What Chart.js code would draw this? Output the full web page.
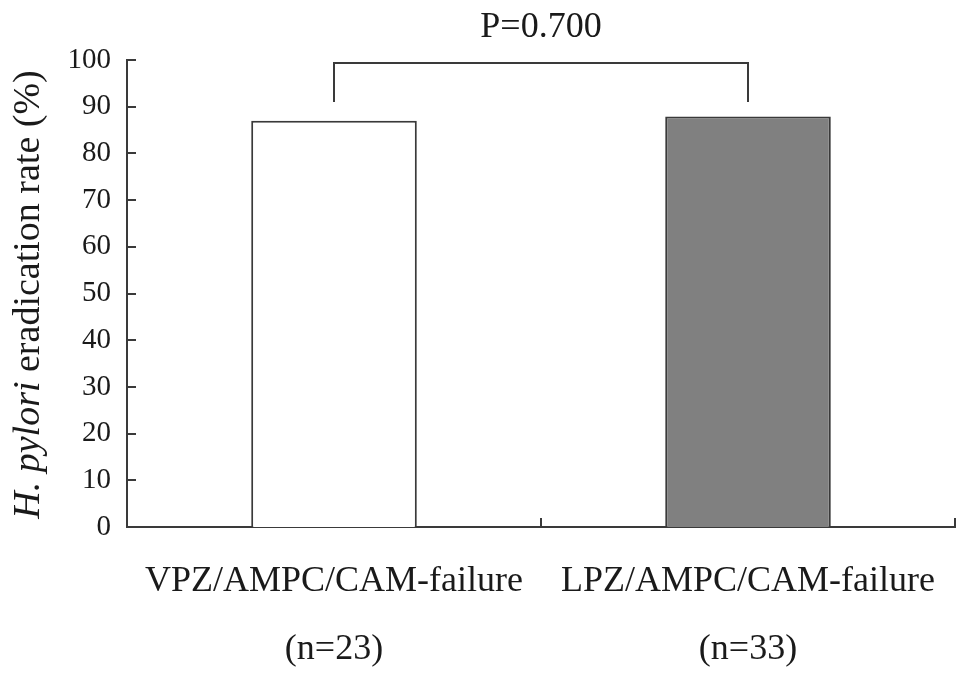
<!DOCTYPE html>
<html>
<head>
<meta charset="utf-8">
<script src="https://cdn.jsdelivr.net/npm/chart.js@4/dist/chart.umd.min.js"></script>
<style>
  html, body { margin: 0; padding: 0; background: #ffffff; overflow: hidden; }
  #wrap { width: 969px; height: 676px; position: relative; }
  #c { display: block; }
</style>
</head>
<body>
<div id="wrap"><canvas id="c"></canvas></div>
<script>
// ---- data ----
const categories = [['VPZ/AMPC/CAM-failure', '(n=23)'], ['LPZ/AMPC/CAM-failure', '(n=33)']];
const rates = [87.0, 87.9];
const barColors = ['#ffffff', '#808080'];
const yMin = 0, yMax = 100, yStep = 10;
const pLabel = 'P=0.700';
const bracketTop = 99.3;   // value of bracket horizontal line
const bracketLeg = 91.0;   // value where bracket legs end
const yTitleItalic = 'H. pylori';
const yTitleRest = ' eradication rate (%)';

const FONT = '"Liberation Serif", "Times New Roman", serif';
const INK = '#1a1a1a';
const AXIS = '#3a3a3a';

const decorPlugin = {
  id: 'decor',
  afterDraw(chart) {
    const ctx = chart.ctx;
    const x = chart.scales.x, y = chart.scales.y;
    const area = chart.chartArea;
    ctx.save();
    ctx.strokeStyle = AXIS;
    ctx.lineWidth = 2;
    // inward y ticks
    for (let v = yMin; v <= yMax; v += yStep) {
      const py = Math.round(y.getPixelForValue(v));
      ctx.beginPath();
      ctx.moveTo(area.left, py);
      ctx.lineTo(area.left + 9, py);
      ctx.stroke();
    }
    // inward x ticks at category boundaries
    for (let i = 0; i <= categories.length; i++) {
      const px = Math.round(x.getPixelForValue(i - 0.5));
      ctx.beginPath();
      ctx.moveTo(px, area.bottom);
      ctx.lineTo(px, area.bottom - 9);
      ctx.stroke();
    }
    // significance bracket
    const x0 = Math.round(x.getPixelForValue(0));
    const x1 = Math.round(x.getPixelForValue(1));
    const yt = Math.round(y.getPixelForValue(bracketTop));
    const yl = Math.round(y.getPixelForValue(bracketLeg));
    ctx.beginPath();
    ctx.moveTo(x0, yl);
    ctx.lineTo(x0, yt);
    ctx.lineTo(x1, yt);
    ctx.lineTo(x1, yl);
    ctx.stroke();
    // P label
    ctx.fillStyle = INK;
    ctx.font = '36px ' + FONT;
    ctx.textAlign = 'center';
    ctx.textBaseline = 'middle';
    ctx.fillText(pLabel, (x0 + x1) / 2, 28);
    // y title with italic part
    ctx.save();
    const cx = 29, cy = (area.top + area.bottom) / 2 + 1;
    ctx.translate(cx, cy);
    ctx.rotate(-Math.PI / 2);
    ctx.textAlign = 'left';
    ctx.textBaseline = 'middle';
    const fI = 'italic 38px ' + FONT, fN = '38px ' + FONT;
    ctx.font = fI; const w1 = ctx.measureText(yTitleItalic).width;
    ctx.font = fN; const w2 = ctx.measureText(yTitleRest).width;
    const start = -(w1 + w2) / 2;
    ctx.font = fI; ctx.fillText(yTitleItalic, start, 0);
    ctx.font = fN; ctx.fillText(yTitleRest, start + w1, 0);
    ctx.restore();
    ctx.restore();
  }
};

new Chart(document.getElementById('c'), {
  type: 'bar',
  data: {
    labels: categories,
    datasets: [{
      data: rates,
      backgroundColor: barColors,
      borderColor: AXIS,
      borderWidth: 2,
      barPercentage: 0.4,
      categoryPercentage: 1.0
    }]
  },
  options: {
    responsive: true,
    maintainAspectRatio: false,
    animation: false,
    layout: { padding: { left: 0, right: 14, top: 60, bottom: 0 } },
    plugins: { legend: { display: false }, tooltip: { enabled: false } },
    scales: {
      x: {
        grid: { display: false, drawTicks: false },
        border: { display: true, color: AXIS, width: 2 },
        ticks: {
          color: INK,
          font: { family: FONT, size: 36, lineHeight: 1.9 },
          padding: 20,
          maxRotation: 0,
          autoSkip: false
        },
        afterFit(s) { s.height = 149; }
      },
      y: {
        min: yMin, max: yMax,
        grid: { display: false, drawTicks: false },
        border: { display: true, color: AXIS, width: 2 },
        ticks: {
          stepSize: yStep,
          color: INK,
          font: { family: FONT, size: 29 },
          padding: 16
        },
        afterFit(s) { s.width = 127; }
      }
    }
  },
  plugins: [decorPlugin]
});
</script>
</body>
</html>
